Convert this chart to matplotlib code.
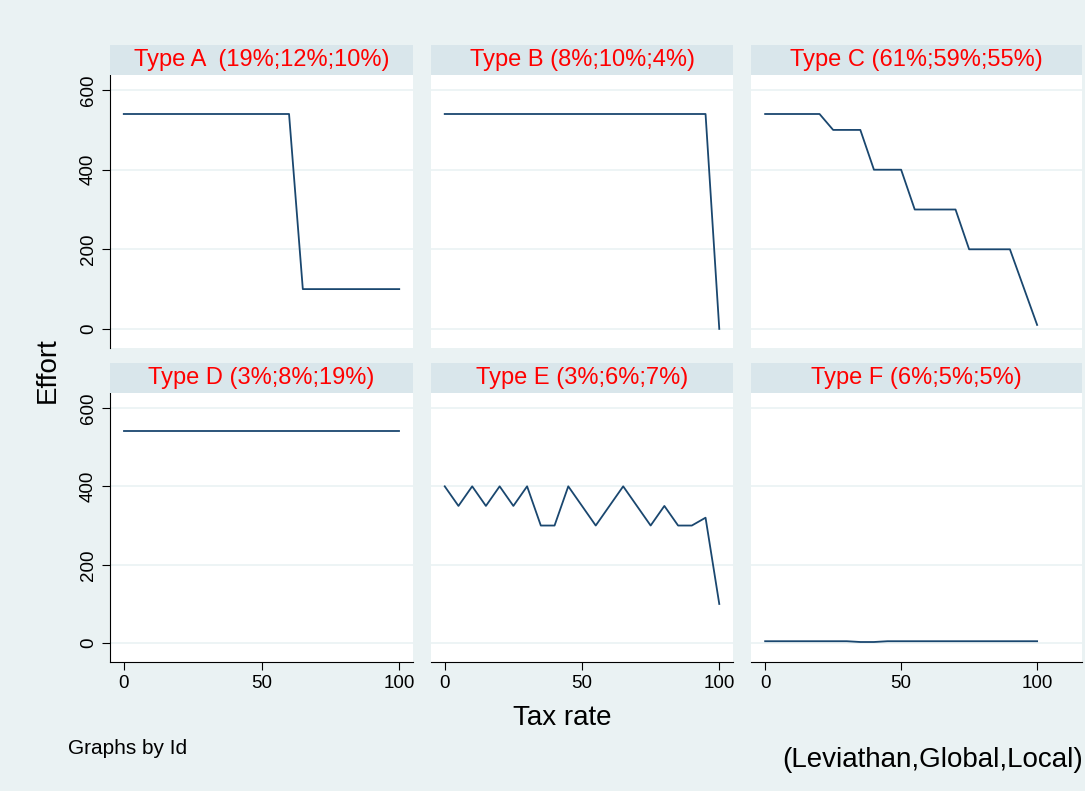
import matplotlib
matplotlib.use("Agg")
import matplotlib.pyplot as plt
plt.rcParams['font.family'] = ['Liberation Sans', 'DejaVu Sans']

x = list(range(0, 101, 5))
titles = ["Type A  (19%;12%;10%)", "Type B (8%;10%;4%)", "Type C (61%;59%;55%)",
          "Type D (3%;8%;19%)", "Type E (3%;6%;7%)", "Type F (6%;5%;5%)"]
A = [540]*13 + [100]*8
B = [540]*20 + [0]
C = [540]*5 + [500]*3 + [400]*3 + [300]*4 + [200]*4 + [105, 10]
D = [540]*21
E = [400,350,400,350,400,350,400,300,300,400,350,300,350,400,350,300,350,300,300,320,100]
F = [5,5,5,5,5,5,5,3,3,5,5,5,5,5,5,5,5,5,5,5,5]
series = [A, B, C, D, E, F]

W, H = 1085, 791
fig = plt.figure(figsize=(W/100, H/100), dpi=100, facecolor="#EAF2F3")
lefts = [110, 431, 751]
widths = [303, 302, 331]
xlims = [(-5, 105), (-5, 105), (-5.2, 116.5)]
rows = [(75, 348, 45), (393, 662, 363)]
for i, (s, t) in enumerate(zip(series, titles)):
    r, c = divmod(i, 3)
    top, bot, stop = rows[r]
    l, w = lefts[c], widths[c]
    ax = fig.add_axes([l/W, 1-bot/H, w/W, (bot-top)/H])
    ax.set_facecolor("white")
    for sp in ax.spines.values():
        sp.set_visible(False)
    ax.plot(x, s, color="#1A476F", lw=1.3)
    ax.set_xlim(*xlims[c])
    ax.set_ylim(-48, 638)
    ax.set_yticks([0, 200, 400, 600])
    ax.set_xticks([0, 50, 100])
    ax.grid(axis="y", color="#EAF2F3", lw=1.2)
    ax.set_axisbelow(True)
    ax.tick_params(labelsize=13.5, length=6, color="black")
    if c == 0:
        ax.spines["left"].set_visible(True)
        ax.set_yticklabels(["0", "200", "400", "600"], rotation=90, va="center")
    else:
        ax.tick_params(axis="y", left=False, labelleft=False)
    if r == 1:
        ax.spines["bottom"].set_visible(True)
    else:
        ax.tick_params(axis="x", bottom=False, labelbottom=False)
    sax = fig.add_axes([l/W, 1-top/H, w/W, (top-stop)/H])
    sax.set_facecolor("#D9E6EB")
    sax.set_xticks([]); sax.set_yticks([])
    for sp in sax.spines.values():
        sp.set_visible(False)
    sax.text(0.5, 0.5, t, color="red", fontsize=17, ha="center", va="center",
             transform=sax.transAxes)

fig.text(48/W, 1-370/H, "Effort", rotation=90, fontsize=20, ha="center", va="center")
fig.text(562/W, 1-718/H, "Tax rate", fontsize=20, ha="center", va="center")
fig.text(68/W, 1-748/H, "Graphs by Id", fontsize=15, ha="left", va="center")
fig.text(1083/W, 1-760/H, "(Leviathan,Global,Local)", fontsize=20, ha="right", va="center")
fig.savefig("out.png", dpi=100, facecolor=fig.get_facecolor())
